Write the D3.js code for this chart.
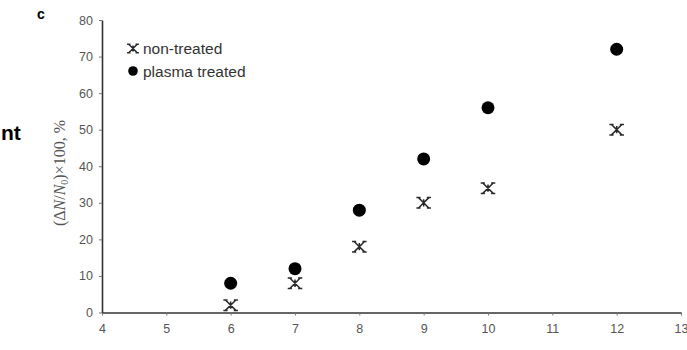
<!DOCTYPE html>
<html>
<head>
<meta charset="utf-8">
<script src="https://cdn.jsdelivr.net/npm/d3@7"></script>
<style>
  body { margin: 0; background: #fff; }
  svg { display: block; }
</style>
</head>
<body>
<svg id="chart" width="687" height="350"></svg>
<script>
// data
var doses = [6, 7, 8, 9, 10, 12];
var nonTreated = [2, 8, 18, 30, 34, 50];
var plasmaTreated = [8, 12, 28, 42, 56, 72];
var xTicks = [4, 5, 6, 7, 8, 9, 10, 11, 12, 13];
var yTicks = [0, 10, 20, 30, 40, 50, 60, 70, 80];

var svg = d3.select("#chart");

var x = d3.scaleLinear().domain([4, 13]).range([102, 681]);
var y = d3.scaleLinear().domain([0, 80]).range([312.5, 20]);

// axes
var xAxis = svg.append("g")
    .attr("transform", "translate(0," + y(0) + ")")
    .call(d3.axisBottom(x).tickValues(xTicks).tickSize(3).tickPadding(9).tickSizeOuter(0));

var yAxis = svg.append("g")
    .attr("transform", "translate(" + x(4) + ",0)")
    .call(d3.axisLeft(y).tickValues(yTicks).tickSize(3).tickPadding(6).tickSizeOuter(0));

[xAxis, yAxis].forEach(function(a) {
    a.select(".domain").attr("stroke", "#333").attr("stroke-width", 1.6);
    a.selectAll(".tick line").attr("stroke", "#777");
    a.selectAll("text")
        .attr("fill", "#555")
        .style("font-family", "Liberation Sans, Arial, sans-serif")
        .style("font-size", "12.5px");
});

// y axis title
svg.append("text")
    .attr("transform", "translate(65,173) rotate(-90)")
    .attr("text-anchor", "middle")
    .attr("fill", "#555")
    .style("font-family", "Liberation Serif, Times New Roman, serif")
    .style("font-size", "16px")
    .html("(Δ<tspan font-style='italic'>N</tspan>/<tspan font-style='italic'>N</tspan><tspan font-size='10px' dy='3'>0</tspan><tspan dy='-3'>)×100, %</tspan>");

// panel letter and the neighbouring panel's text
svg.append("text")
    .attr("x", 37).attr("y", 19)
    .style("font-family", "Liberation Sans, Arial, sans-serif")
    .style("font-size", "14px").style("font-weight", "bold")
    .text("c");

svg.append("text")
    .attr("x", 1).attr("y", 140)
    .style("font-family", "Liberation Sans, Arial, sans-serif")
    .style("font-size", "21px").style("font-weight", "bold")
    .text("nt");

// star marker: an X with a short vertical bar and serifs at its ends
function star(g, s) {
    var c = s * 0.4;
    var p = "M" + (-s) + "," + (-s) + "L" + s + "," + s +
        "M" + s + "," + (-s) + "L" + (-s) + "," + s +
        "M0," + (-s * 0.7) + "L0," + (s * 0.7);
    [[-s, -s], [s, -s], [-s, s], [s, s]].forEach(function(e) {
        p += "M" + (e[0] - c) + "," + e[1] + "L" + (e[0] + c) + "," + e[1];
    });
    g.append("path").attr("d", p)
        .attr("stroke", "#2a2a2a").attr("stroke-width", 1.5).attr("fill", "none");
}

svg.selectAll(".nt")
    .data(doses.map(function(d, i) { return [d, nonTreated[i]]; }))
    .enter().append("g")
    .attr("class", "nt")
    .attr("transform", function(d) { return "translate(" + x(d[0]) + "," + y(d[1]) + ")"; })
    .each(function() { star(d3.select(this), 5.2); });

svg.selectAll(".pt")
    .data(doses.map(function(d, i) { return [d, plasmaTreated[i]]; }))
    .enter().append("circle")
    .attr("class", "pt")
    .attr("cx", function(d) { return x(d[0]); })
    .attr("cy", function(d) { return y(d[1]); })
    .attr("r", 6.5)
    .attr("fill", "#000");

// legend
var leg = svg.append("g").attr("transform", "translate(133,0)");
star(leg.append("g").attr("transform", "translate(0,48.5)"), 4.2);
leg.append("circle").attr("cx", 0).attr("cy", 71).attr("r", 4.8).attr("fill", "#000");
leg.selectAll("text")
    .data(["non-treated", "plasma treated"])
    .enter().append("text")
    .attr("x", 10)
    .attr("y", function(d, i) { return 53.5 + i * 23; })
    .attr("fill", "#333")
    .style("font-family", "Liberation Sans, Arial, sans-serif")
    .style("font-size", "15.5px")
    .text(function(d) { return d; });
</script>
</body>
</html>
